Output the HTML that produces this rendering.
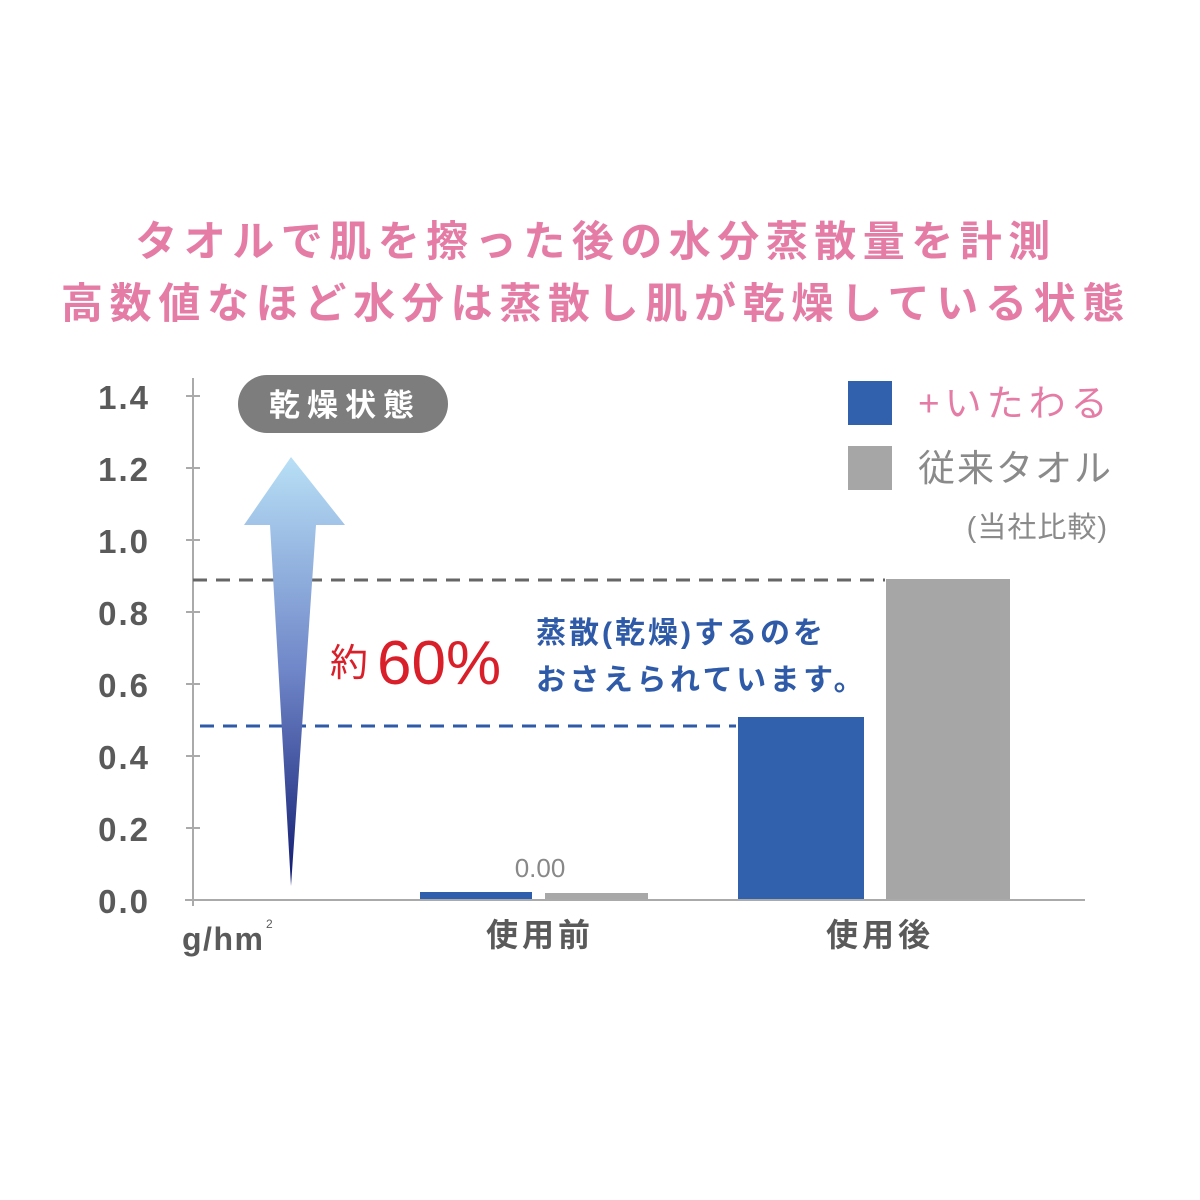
<!DOCTYPE html>
<html><head><meta charset="utf-8"><style>
body{margin:0;background:#fff;}
svg{display:block}
text{font-family:"Liberation Sans","Noto Sans CJK JP",sans-serif;}
</style></head><body>
<svg width="1200" height="1200" viewBox="0 0 1200 1200">
<defs>
<linearGradient id="ag" x1="0" y1="0" x2="0" y2="1">
<stop offset="0" stop-color="#b8e0f6"/>
<stop offset="0.5" stop-color="#6f86c8"/>
<stop offset="1" stop-color="#101a70"/>
</linearGradient>
</defs>
<text x="596" y="256" text-anchor="middle" font-size="42" fill="#e47ca6" font-weight="bold" letter-spacing="6.5">タオルで肌を擦った後の水分蒸散量を計測</text>
<text x="596" y="318" text-anchor="middle" font-size="42" fill="#e47ca6" font-weight="bold" letter-spacing="6.7">高数値なほど水分は蒸散し肌が乾燥している状態</text>
<!-- axes -->
<line x1="193" y1="378" x2="193" y2="906" stroke="#aaa" stroke-width="2"/>
<line x1="185" y1="900" x2="1085" y2="900" stroke="#aaa" stroke-width="2"/>
<g stroke="#aaa" stroke-width="2">
<line x1="186" y1="396" x2="200" y2="396"/><line x1="186" y1="468" x2="200" y2="468"/>
<line x1="186" y1="540" x2="200" y2="540"/><line x1="186" y1="612" x2="200" y2="612"/>
<line x1="186" y1="684" x2="200" y2="684"/><line x1="186" y1="756" x2="200" y2="756"/>
<line x1="186" y1="828" x2="200" y2="828"/>
</g>
<g font-size="33" font-weight="bold" fill="#5a5a5a" text-anchor="end" letter-spacing="2">
<text x="150" y="409">1.4</text><text x="150" y="481">1.2</text><text x="150" y="553">1.0</text>
<text x="150" y="625">0.8</text><text x="150" y="697">0.6</text><text x="150" y="769">0.4</text>
<text x="150" y="841">0.2</text><text x="150" y="913">0.0</text>
</g>
<text x="182" y="950" font-size="32" font-weight="bold" fill="#5a5a5a" letter-spacing="1.5">g/hm</text>
<text x="266" y="928" font-size="12" fill="#5a5a5a">2</text>
<text x="540" y="946" text-anchor="middle" font-size="32" font-weight="bold" fill="#5a5a5a" letter-spacing="4">使用前</text>
<text x="880" y="946" text-anchor="middle" font-size="32" font-weight="bold" fill="#5a5a5a" letter-spacing="4">使用後</text>
<!-- dashed -->
<line x1="193" y1="580" x2="885" y2="580" stroke="#666" stroke-width="3" stroke-dasharray="14,9"/>
<line x1="200" y1="726" x2="736" y2="726" stroke="#2e5aa8" stroke-width="3" stroke-dasharray="14,9"/>
<!-- bars -->
<rect x="420" y="892" width="112" height="7" fill="#2f5fac"/>
<rect x="545" y="893" width="103" height="6" fill="#a8a8a8"/>
<rect x="738" y="717" width="126" height="182" fill="#3160ac"/>
<rect x="886" y="579" width="124" height="320" fill="#a6a6a6"/>
<text x="540" y="877" text-anchor="middle" font-size="26" fill="#888">0.00</text>
<!-- arrow -->
<polygon points="291,457 345,525 316,525 291,886 270,525 244,525" fill="url(#ag)"/>
<rect x="238" y="375" width="210" height="58" rx="29" fill="#7d7d7d"/>
<text x="345" y="416" text-anchor="middle" font-size="31" font-weight="bold" fill="#fff" letter-spacing="7">乾燥状態</text>
<!-- 60% -->
<text x="330" y="676" font-size="38" fill="#d9202a">約</text>
<text x="377" y="684" font-size="62" fill="#d9202a">60%</text>
<text x="536" y="643" font-size="30" font-weight="bold" fill="#2e5aa8" letter-spacing="3">蒸散(乾燥)するのを</text>
<text x="536" y="690" font-size="30" font-weight="bold" fill="#2e5aa8" letter-spacing="3.5">おさえられています。</text>
<!-- legend -->
<rect x="848" y="381" width="44" height="44" fill="#3160ac"/>
<rect x="848" y="446" width="44" height="44" fill="#a6a6a6"/>
<text x="918" y="416" font-size="37" fill="#e47ca6" letter-spacing="5">+いたわる</text>
<text x="918" y="481" font-size="37" fill="#8a8a8a" letter-spacing="2">従来タオル</text>
<text x="1108" y="537" text-anchor="end" font-size="29" fill="#8a8a8a" letter-spacing="1">(当社比較)</text>
</svg>
</body></html>
